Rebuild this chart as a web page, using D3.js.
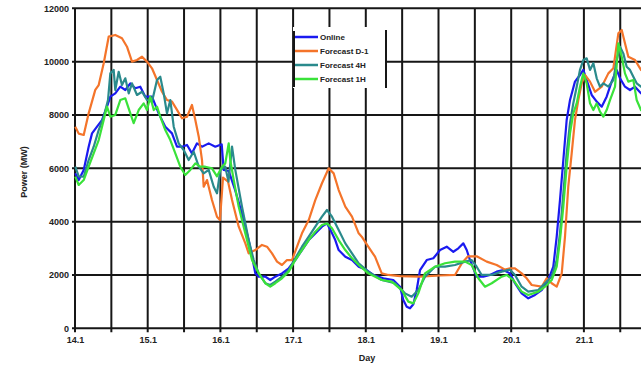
<!DOCTYPE html>
<html><head><meta charset="utf-8">
<script src="https://cdn.jsdelivr.net/npm/d3@7"></script>
<style>body{margin:0;background:#fff}svg{display:block}text{font-family:"Liberation Sans",Arial,sans-serif}</style>
</head><body><svg id="c" width="641" height="369"></svg>
<script>
const seriesNames = ["Online", "Forecast D-1", "Forecast 4H", "Forecast 1H"];
const yTicks = [0, 2000, 4000, 6000, 8000, 10000, 12000];
const dayTicks = [14, 15, 16, 17, 18, 19, 20, 21];

const online = [[14.004,5810],[14.051,5560],[14.120,5940],[14.188,6810],[14.234,7310],[14.303,7560],[14.371,7810],[14.440,8310],[14.486,8685],[14.554,8810],[14.623,9060],[14.692,8935],[14.761,9185],[14.829,9000],[14.898,9060],[14.967,8685],[15.059,8685],[15.151,8060],[15.242,7560],[15.334,7310],[15.403,6810],[15.472,6810],[15.541,6875],[15.609,6560],[15.678,6935],[15.747,6810],[15.839,6935],[15.930,6810],[16.018,6900],[16.045,5940],[16.114,5900],[16.201,5200],[16.297,4300],[16.389,3300],[16.435,2700],[16.480,2060],[16.527,1935],[16.618,1935],[16.686,1810],[16.755,1935],[16.847,2060],[16.940,2250],[17.030,2560],[17.122,2935],[17.215,3310],[17.305,3560],[17.397,3810],[17.466,3935],[17.512,3700],[17.580,3310],[17.627,2935],[17.718,2685],[17.810,2560],[17.902,2310],[18.012,2185],[18.103,2000],[18.241,1875],[18.378,1810],[18.471,1560],[18.516,1060],[18.563,810],[18.608,750],[18.654,900],[18.700,1435],[18.746,2185],[18.838,2560],[18.929,2625],[19.021,2935],[19.113,3060],[19.204,2870],[19.273,3000],[19.341,3185],[19.388,2935],[19.433,2560],[19.525,1935],[19.616,1935],[19.708,2000],[19.800,2125],[19.891,2185],[19.983,2060],[20.052,1690],[20.144,1310],[20.235,1125],[20.327,1250],[20.419,1435],[20.510,1810],[20.579,2310],[20.626,3435],[20.671,4810],[20.717,6310],[20.763,7810],[20.809,8560],[20.877,9250],[20.946,9500],[20.992,9690],[21.038,9310],[21.107,8750],[21.176,8500],[21.245,8310],[21.313,8685],[21.382,9250],[21.451,9690],[21.497,9375],[21.565,9060],[21.634,8935],[21.703,9060],[21.785,8810],[21.868,8700]];

const forecastD1 = [[14.004,7560],[14.051,7300],[14.120,7250],[14.188,8060],[14.279,8940],[14.326,9120],[14.395,9940],[14.464,10940],[14.554,11000],[14.646,10875],[14.715,10560],[14.784,10000],[14.853,10060],[14.922,10185],[14.990,10000],[15.059,9750],[15.128,9310],[15.197,8870],[15.265,8560],[15.334,8500],[15.403,8190],[15.472,7875],[15.541,7935],[15.609,8375],[15.655,7810],[15.702,7185],[15.747,6310],[15.770,5310],[15.816,5560],[15.884,4810],[15.953,4185],[15.994,4060],[16.036,5650],[16.105,5500],[16.160,4810],[16.252,3810],[16.343,3185],[16.389,2810],[16.480,2935],[16.572,3125],[16.641,3060],[16.710,2810],[16.779,2500],[16.847,2375],[16.916,2560],[16.985,2560],[17.054,3060],[17.122,3560],[17.215,4060],[17.305,4810],[17.397,5440],[17.490,6000],[17.558,5810],[17.627,5185],[17.718,4560],[17.810,4185],[17.902,3560],[17.944,3435],[18.034,3060],[18.127,2685],[18.219,2060],[18.310,2000],[18.471,1960],[18.746,1940],[19.021,1980],[19.227,2000],[19.323,2450],[19.406,2700],[19.525,2700],[19.663,2500],[19.800,2375],[19.915,2200],[19.983,2250],[20.052,2250],[20.144,2060],[20.213,1875],[20.282,1625],[20.419,1560],[20.488,1875],[20.557,1690],[20.626,1560],[20.695,2060],[20.740,3435],[20.785,5310],[20.832,6560],[20.877,7810],[20.923,8560],[20.970,9190],[21.015,9500],[21.084,9250],[21.153,8870],[21.245,9060],[21.336,9560],[21.405,9750],[21.474,11060],[21.520,11185],[21.565,10690],[21.611,10185],[21.703,10060],[21.785,9690],[21.868,9500]];

const forecast4H = [[14.004,6060],[14.051,5700],[14.120,5685],[14.188,6310],[14.257,6810],[14.326,7435],[14.395,7935],[14.454,8560],[14.486,9560],[14.532,9690],[14.554,8935],[14.601,9620],[14.646,9125],[14.692,9375],[14.739,8810],[14.784,9185],[14.853,8750],[14.922,8870],[14.990,8560],[15.059,8500],[15.128,9310],[15.173,9435],[15.220,8810],[15.265,8060],[15.311,8560],[15.358,7560],[15.426,6935],[15.495,6685],[15.564,6310],[15.633,6620],[15.702,6060],[15.770,5810],[15.839,5940],[15.908,5310],[15.953,5060],[15.999,5940],[16.067,6060],[16.111,5500],[16.160,6810],[16.205,5940],[16.297,4560],[16.389,3310],[16.458,2560],[16.527,2060],[16.618,1690],[16.686,1625],[16.755,1750],[16.847,1935],[16.940,2185],[17.030,2625],[17.122,3060],[17.215,3435],[17.305,3810],[17.397,4185],[17.466,4435],[17.535,4185],[17.627,3685],[17.718,3185],[17.810,2810],[17.902,2435],[18.034,2125],[18.219,1810],[18.402,1690],[18.539,1310],[18.631,1185],[18.722,1435],[18.814,1935],[18.952,2310],[19.089,2310],[19.227,2375],[19.364,2500],[19.457,2560],[19.525,2310],[19.594,2000],[19.732,2000],[19.869,2125],[19.983,2200],[20.052,2000],[20.144,1560],[20.235,1375],[20.373,1435],[20.465,1690],[20.557,1935],[20.626,2560],[20.671,3560],[20.717,5060],[20.763,6560],[20.809,7690],[20.854,8435],[20.901,9060],[20.946,9690],[20.992,10060],[21.038,10125],[21.084,9690],[21.130,9940],[21.176,9375],[21.221,9060],[21.267,9185],[21.336,9060],[21.405,9310],[21.451,10060],[21.497,10560],[21.542,10310],[21.588,9810],[21.634,9690],[21.680,9435],[21.726,9185],[21.785,9060],[21.868,8900]];

const forecast1H = [[14.004,5685],[14.051,5375],[14.120,5560],[14.188,6060],[14.257,6560],[14.326,7060],[14.395,7810],[14.440,8310],[14.486,7935],[14.554,8000],[14.623,8560],[14.692,8625],[14.761,8060],[14.807,7690],[14.876,8185],[14.945,8435],[14.990,8185],[15.036,8685],[15.083,8185],[15.128,8310],[15.173,7935],[15.242,7435],[15.311,7060],[15.380,6560],[15.448,6060],[15.517,5750],[15.586,5940],[15.655,6185],[15.724,6060],[15.792,6060],[15.884,6000],[15.953,5700],[16.022,6060],[16.067,6185],[16.114,6935],[16.136,6310],[16.183,5560],[16.252,4560],[16.343,3560],[16.435,2560],[16.527,2060],[16.618,1690],[16.686,1560],[16.755,1690],[16.847,1875],[16.940,2125],[17.030,2560],[17.122,2935],[17.215,3310],[17.305,3620],[17.397,3875],[17.466,3935],[17.535,3750],[17.627,3310],[17.718,2935],[17.810,2625],[17.902,2375],[18.034,2060],[18.219,1810],[18.356,1750],[18.494,1435],[18.585,1000],[18.654,935],[18.722,1310],[18.814,2060],[18.952,2310],[19.089,2440],[19.227,2500],[19.364,2500],[19.457,2375],[19.548,1875],[19.640,1560],[19.732,1690],[19.869,1935],[19.938,2000],[20.029,1810],[20.144,1375],[20.235,1250],[20.373,1375],[20.465,1560],[20.557,1810],[20.626,2310],[20.671,3310],[20.717,4560],[20.763,6060],[20.809,7310],[20.854,8060],[20.901,8435],[20.946,9060],[20.992,9560],[21.038,9185],[21.084,8435],[21.130,8185],[21.176,8435],[21.221,8125],[21.267,7935],[21.313,8185],[21.359,8560],[21.428,9060],[21.474,10690],[21.520,10185],[21.565,9560],[21.611,9250],[21.680,9310],[21.726,8560],[21.785,8185],[21.868,8000]];

const colors = {"Online":"#1a1af0","Forecast D-1":"#f4742a","Forecast 4H":"#2a8a8c","Forecast 1H":"#3ae23a"};
const seriesData = {"Online":online,"Forecast D-1":forecastD1,"Forecast 4H":forecast4H,"Forecast 1H":forecast1H};

const svg = d3.select("#c");
const L = 75, T = 8.3, B = 328.3;
const x = d3.scaleLinear().domain([14, 22]).range([L, L + 8 * 72.7]);
const y = d3.scaleLinear().domain([0, 12000]).range([B, T]);
const R = x(22);

svg.append("rect").attr("width",641).attr("height",369).attr("fill","#fff");

// grid
const halfDays = d3.range(14, 22.01, 0.5);
svg.append("g").selectAll("line").data(halfDays).join("line")
  .attr("x1", d=>x(d)).attr("x2", d=>x(d)).attr("y1", T).attr("y2", B+4)
  .attr("stroke","#161616").attr("stroke-width",2);
svg.append("g").selectAll("line").data(yTicks).join("line")
  .attr("x1", L-3).attr("x2", R).attr("y1", d=>y(d)).attr("y2", d=>y(d))
  .attr("stroke","#161616").attr("stroke-width",2);

// axes labels
const ya = svg.append("g").attr("transform",`translate(${L-3},0)`)
  .call(d3.axisLeft(y).tickValues(yTicks).tickSize(0).tickPadding(3).tickFormat(d3.format("d")));
ya.select(".domain").remove();
ya.selectAll("text").attr("font-size",9).attr("font-weight","bold").attr("fill","#222");

const xa = svg.append("g").attr("transform",`translate(0,${B+4})`)
  .call(d3.axisBottom(x).tickValues(dayTicks).tickSize(0).tickPadding(4).tickFormat(d=>d+".1"));
xa.select(".domain").remove();
xa.selectAll("text").attr("font-size",9).attr("font-weight","bold").attr("fill","#222");

svg.append("text").attr("x",367).attr("y",361).attr("text-anchor","middle")
  .attr("font-size",9).attr("font-weight","bold").attr("fill","#222").text("Day");
svg.append("text").attr("transform","translate(27,172) rotate(-90)").attr("text-anchor","middle")
  .attr("font-size",9).attr("font-weight","bold").attr("fill","#222").text("Power (MW)");

// lines
const line = d3.line().x(d=>x(d[0])).y(d=>y(d[1]));
const drawOrder = ["Online","Forecast D-1","Forecast 4H","Forecast 1H"];
svg.append("g").selectAll("path").data(drawOrder).join("path")
  .attr("d", n=>line(seriesData[n])).attr("fill","none")
  .attr("stroke", n=>colors[n]).attr("stroke-width",2.2).attr("stroke-linejoin","round");

// legend
const lg = svg.append("g");
lg.append("rect").attr("x",293).attr("y",27).attr("width",94).attr("height",61).attr("fill","#fff");
lg.append("line").attr("x1",294).attr("x2",294).attr("y1",31).attr("y2",87).attr("stroke","#161616").attr("stroke-width",2);
lg.append("line").attr("x1",386).attr("x2",386).attr("y1",30).attr("y2",88).attr("stroke","#161616").attr("stroke-width",2);
const items = lg.selectAll("g.it").data(seriesNames).join("g").attr("class","it")
  .attr("transform",(d,i)=>`translate(0,${37 + i*14})`);
items.append("line").attr("x1",295).attr("x2",318).attr("stroke",d=>colors[d]).attr("stroke-width",2.5);
items.append("text").attr("x",320).attr("y",3).attr("font-size",8).attr("font-weight","bold").attr("fill","#222").text(d=>d);
</script></body></html>
